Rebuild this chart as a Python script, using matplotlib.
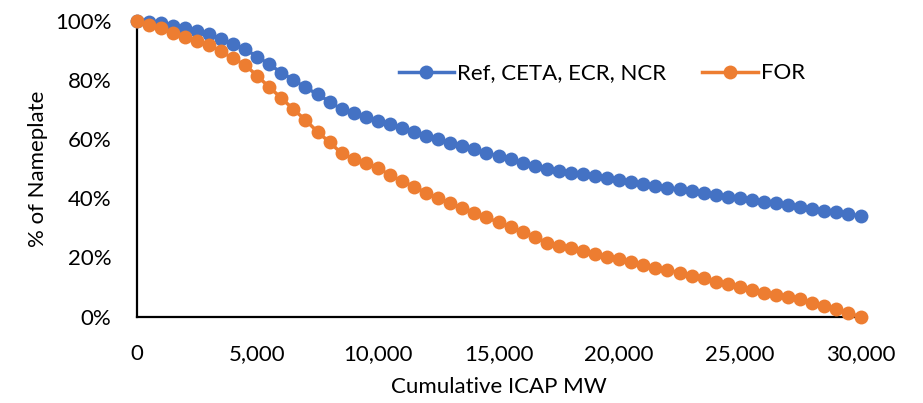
import matplotlib
matplotlib.use("Agg")
import matplotlib.pyplot as plt
from matplotlib.ticker import FuncFormatter, MultipleLocator

plt.rcParams['font.family'] = ['Lato', 'DejaVu Sans']

cumulative_mw = [0, 500, 1000, 1500, 2000, 2500, 3000, 3500, 4000, 4500,
                 5000, 5500, 6000, 6500, 7000, 7500, 8000, 8500, 9000, 9500,
                 10000, 10500, 11000, 11500, 12000, 12500, 13000, 13500, 14000, 14500,
                 15000, 15500, 16000, 16500, 17000, 17500, 18000, 18500, 19000, 19500,
                 20000, 20500, 21000, 21500, 22000, 22500, 23000, 23500, 24000, 24500,
                 25000, 25500, 26000, 26500, 27000, 27500, 28000, 28500, 29000, 29500,
                 30000]

ref_ceta_ecr_ncr = [100, 99.5, 99.0, 98.2, 97.4, 96.5, 95.4, 93.9, 92.1, 90.3,
                    87.8, 85.2, 82.4, 79.9, 77.4, 75.1, 72.6, 70.0, 68.6, 67.5,
                    66.1, 65.0, 63.7, 62.5, 61.1, 59.9, 58.7, 57.6, 56.5, 55.3,
                    54.2, 53.1, 52.0, 51.0, 49.9, 49.3, 48.6, 48.0, 47.5, 46.7,
                    46.1, 45.3, 44.8, 44.1, 43.5, 43.0, 42.4, 41.8, 41.1, 40.5,
                    39.9, 39.4, 38.8, 38.2, 37.7, 37.1, 36.3, 35.7, 35.2, 34.6,
                    34.0]

for_values = [100, 98.5, 97.4, 95.9, 94.5, 93.2, 91.8, 89.6, 87.2, 85.0,
              81.3, 77.5, 73.8, 70.0, 66.4, 62.4, 58.9, 55.1, 53.2, 51.8,
              50.2, 47.8, 45.8, 43.9, 41.8, 39.9, 38.2, 36.8, 35.1, 33.5,
              31.8, 30.1, 28.6, 27.0, 24.9, 23.9, 23.0, 22.1, 21.1, 20.2,
              19.3, 18.3, 17.4, 16.5, 15.7, 14.8, 13.8, 12.9, 11.8, 10.9,
              9.9, 9.0, 8.0, 7.3, 6.5, 5.8, 4.7, 3.5, 2.4, 1.1,
              0.0]

series_labels = ["Ref, CETA, ECR, NCR", "FOR"]
x_label = "Cumulative ICAP MW"
y_label = "% of Nameplate"

blue = "#4472C4"
orange = "#ED7D31"
fs = 16

fig = plt.figure(figsize=(9.23, 4.03), dpi=100)
ax = fig.add_axes([0.1479, 0.2146, 0.7844, 0.7345])

ax.plot(cumulative_mw, [v / 100 for v in ref_ceta_ecr_ncr], color=blue, lw=2.5,
        marker='o', markersize=10, markeredgewidth=0, clip_on=False, zorder=3,
        label=series_labels[0])
ax.plot(cumulative_mw, [v / 100 for v in for_values], color=orange, lw=2.5,
        marker='o', markersize=10, markeredgewidth=0, clip_on=False, zorder=4,
        label=series_labels[1])

ax.set_xlim(0, 30000)
ax.set_ylim(0, 1)
ax.xaxis.set_major_locator(MultipleLocator(5000))
ax.yaxis.set_major_locator(MultipleLocator(0.2))
ax.xaxis.set_major_formatter(FuncFormatter(lambda v, p: f"{int(v):,}"))
ax.yaxis.set_major_formatter(FuncFormatter(lambda v, p: f"{v*100:.0f}%"))

for s in ['top', 'right']:
    ax.spines[s].set_visible(False)
for s in ['left', 'bottom']:
    ax.spines[s].set_linewidth(1.6)
    ax.spines[s].set_color('black')

ax.tick_params(axis='both', length=0, labelsize=fs, colors='black')
ax.tick_params(axis='x', pad=20)
ax.tick_params(axis='y', pad=18)

ax.set_xlabel(x_label, fontsize=fs, labelpad=9)
ax.set_ylabel(y_label, fontsize=fs, labelpad=5)

leg = fig.legend(loc='center', bbox_to_anchor=(0.652, 0.818), ncol=2, frameon=False,
                 fontsize=fs, handlelength=2.5, columnspacing=1.6, handletextpad=0.15)

fig.savefig("out.png", dpi=100)
